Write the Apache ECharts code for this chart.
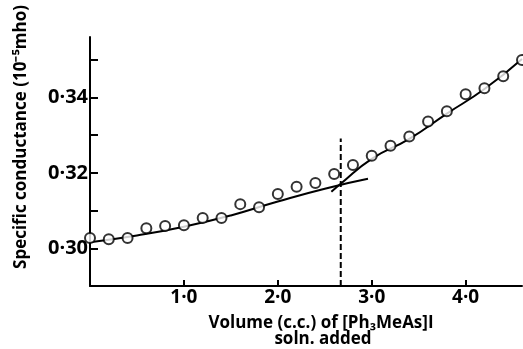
<!DOCTYPE html>
<html>
<head>
<meta charset="utf-8">
<script src="https://cdn.jsdelivr.net/npm/echarts@6/dist/echarts.min.js"></script>
<style>
html,body{margin:0;padding:0;background:#fff;}
#c{width:523px;height:349px;}
</style>
</head>
<body>
<div id="c"></div>
<script>
// Volume added (c.c.) for each measured point
const volumes = [0.0,0.2,0.4,0.6,0.8,1.0,1.2,1.4,1.6,1.8,2.0,2.2,2.4,2.6,2.8,3.0,3.2,3.4,3.6,3.8,4.0,4.2,4.4,4.6];
// Specific conductance (10^-5 mho)
const conductance = [0.3027,0.3024,0.3027,0.3053,0.3059,0.3061,0.3080,0.3080,0.3117,0.3109,0.3144,0.3163,0.3173,0.3197,0.3221,0.3245,0.3272,0.3296,0.3336,0.3363,0.3408,0.3424,0.3456,0.3499];
// Fitted lower branch
const lowerLineX = [0.0,0.5,1.0,1.5,2.0,2.5,2.96];
const lowerLineY = [0.3016,0.3034,0.3057,0.3087,0.3124,0.3158,0.3184];
// Fitted upper branch
const upperLineX = [2.57,2.67,3.0,3.4,3.8,4.2,4.6];
const upperLineY = [0.3150,0.3171,0.3237,0.3290,0.3357,0.3422,0.3502];
// End point (dashed vertical)
const endPointX = 2.67;
const endPointY = [0.29,0.3291];
// Axis ticks
const yTicks = [0.30,0.31,0.32,0.33,0.34,0.35];
const yLabels = [0.30,0.32,0.34];
const xTicks = [1,2,3,4];
const xLabels = [1,2,3,4];
const yTitle = 'Specific conductance (10\u207B\u2075mho)';
const xTitle1 = 'Volume (c.c.) of [Ph\u2083MeAs]I';
const xTitle2 = 'soln. added';

const FONT = '"Open Sans", sans-serif';
const chart = echarts.init(document.getElementById('c'), null, {renderer:'canvas'});
const zip = (xs, ys) => xs.map((x,i)=>[x, ys[i]]);
chart.setOption({
  animation:false,
  backgroundColor:'#fff',
  grid:{left:90, right:1, top:37, bottom:63, containLabel:false},
  xAxis:{
    type:'value', min:0, max:4.6,
    axisLine:{show:true, onZero:false, lineStyle:{color:'#000', width:2}},
    axisTick:{show:true, inside:true, length:6, lineStyle:{color:'#000', width:2}, customValues:xTicks},
    axisLabel:{show:true, customValues:xLabels, margin:2, color:'#000', fontFamily:FONT, fontWeight:'bold', fontSize:19,
      formatter:v=>v.toFixed(1).replace('.', '\u00B7')},
    splitLine:{show:false}
  },
  yAxis:{
    type:'value', min:0.29, max:0.356,
    axisLine:{show:true, onZero:false, lineStyle:{color:'#000', width:2}},
    axisTick:{show:true, inside:true, length:8, lineStyle:{color:'#000', width:2}, customValues:yTicks},
    axisLabel:{show:true, customValues:yLabels, margin:2, color:'#000', fontFamily:FONT, fontWeight:'bold', fontSize:20,
      formatter:v=>v.toFixed(2).replace('.', '\u00B7')},
    splitLine:{show:false}
  },
  graphic:[
    {type:'text', x:21, y:137, rotation:Math.PI/2,
      style:{text:yTitle, fill:'#000', font:'bold 17px "Open Sans", sans-serif', textAlign:'center', textVerticalAlign:'middle'}},
    {type:'text', x:321, y:323,
      style:{text:xTitle1, fill:'#000', font:'bold 17px "Open Sans", sans-serif', textAlign:'center', textVerticalAlign:'middle'}},
    {type:'text', x:323, y:339,
      style:{text:xTitle2, fill:'#000', font:'bold 17px "Open Sans", sans-serif', textAlign:'center', textVerticalAlign:'middle'}}
  ],
  series:[
    {type:'line', data:zip(lowerLineX, lowerLineY), smooth:true, showSymbol:false, silent:true,
      lineStyle:{color:'#000', width:2}},
    {type:'line', data:zip(upperLineX, upperLineY), smooth:true, showSymbol:false, silent:true,
      lineStyle:{color:'#000', width:2}},
    {type:'line', data:endPointY.map(y=>[endPointX, y]), showSymbol:false, silent:true,
      lineStyle:{color:'#000', width:2, type:[6,3]}},
    {type:'scatter', data:zip(volumes, conductance), symbol:'circle', symbolSize:10, silent:true,
      itemStyle:{color:'#fff', borderColor:'#000', borderWidth:2}, z:5}
  ]
});
</script>
</body>
</html>
